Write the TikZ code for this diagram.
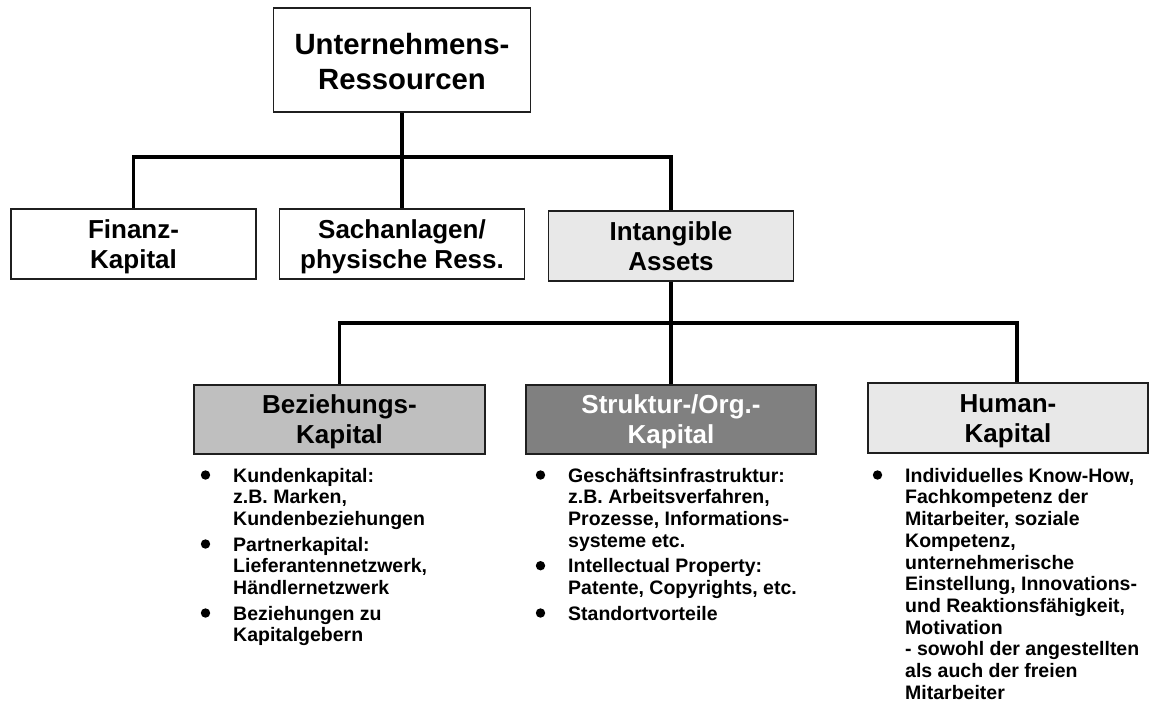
\documentclass[tikz,border=0pt]{standalone}
\usepackage{fontspec}
\setmainfont{Liberation Sans}
\usetikzlibrary{calc}
\definecolor{boxline}{gray}{0.12}
\definecolor{lightfill}{gray}{0.91}
\definecolor{midfill}{gray}{0.75}
\definecolor{darkfill}{gray}{0.5}
% invisible rules that fix the height of the first line and the depth of the last line
\newcommand\rootup{\rule{0pt}{29pt}}
\newcommand\midup{\rule{0pt}{24.5pt}}
\newcommand\lowup{\rule{0pt}{24pt}}
\newcommand\downrule{\rule[-6pt]{0pt}{6pt}}
\begin{document}
\begin{tikzpicture}[x=1pt,y=-1pt,
  basebox/.style={draw=boxline, line width=1.8pt, inner sep=0pt, align=center},
  rootbox/.style={basebox, minimum width=257pt, minimum height=104pt,
    font=\bfseries\fontsize{29.3}{35}\selectfont},
  midbox/.style={basebox, minimum width=245pt, minimum height=70pt,
    font=\bfseries\fontsize{26}{30.5}\selectfont},
  lowbox/.style={basebox, minimum width=291pt, minimum height=69pt,
    font=\bfseries\fontsize{26}{30}\selectfont},
  link/.style={line width=3.2pt, draw=black},
  item/.style={anchor=north west, inner sep=0pt, align=left,
    font=\bfseries\fontsize{19.5}{21.7}\selectfont},
  dot/.style={fill=black}
]
\useasboundingbox (0,0) rectangle (1150,713);

% hierarchy boxes
\node[rootbox] (root) at (402,60) {\rootup Unternehmens-\\Ressourcen\downrule};

\node[midbox] (fin) at (133.5,244) {\midup Finanz-\\Kapital\downrule};
\node[midbox] (sach) at (402,244) {\midup Sachanlagen/\\physische Ress.\downrule};
\node[midbox, fill=lightfill] (intang) at (671,246) {\midup Intangible\\Assets\downrule};

\node[lowbox, fill=midfill] (bez) at (339.5,419.5) {\lowup Beziehungs-\\Kapital\downrule};
\node[lowbox, minimum width=290pt, fill=darkfill, text=white] (struk) at (671,419.5) {\lowup Struktur-/Org.-\\Kapital\downrule};
\node[lowbox, minimum width=280pt, minimum height=70pt, fill=lightfill] (hum) at (1008,418) {\lowup Human-\\Kapital\downrule};

% bus lines
\coordinate (bus1) at (0,157);
\coordinate (bus2) at (0,323);
\coordinate (humtop) at ($(hum.north)+(9,0)$);

\draw[link] (root.south) -- (sach.north);
\draw[link] (fin.north) -- (fin.north |- bus1) -- (intang.north |- bus1) -- (intang.north);
\draw[link] (intang.south) -- (struk.north);
\draw[link] (bez.north) -- (bez.north |- bus2) -- (humtop |- bus2) -- (humtop);

% Beziehungskapital items
\node[item] (b1) at (233,466.8) {\strut Kundenkapital:\\z.B. Marken,\\Kundenbeziehungen\strut};
\node[item] (b2) at ([yshift=-3.5pt]b1.south west) {\strut Partnerkapital:\\Lieferantennetzwerk,\\Händlernetzwerk\strut};
\node[item] (b3) at ([yshift=-3.5pt]b2.south west) {\strut Beziehungen zu\\Kapitalgebern\strut};

% Struktur-/Organisationskapital items
\node[item] (s1) at (568,466.8) {\strut Geschäftsinfrastruktur:\\z.B. Arbeitsverfahren,\\Prozesse, Informations-\\systeme etc.\strut};
\node[item] (s2) at ([yshift=-3.5pt]s1.south west) {\strut Intellectual Property:\\Patente, Copyrights, etc.\strut};
\node[item] (s3) at ([yshift=-3.5pt]s2.south west) {\strut Standortvorteile\strut};

% Humankapital item
\node[item] (h1) at (905,466.8) {\strut Individuelles Know-How,\\Fachkompetenz der\\Mitarbeiter, soziale\\Kompetenz,\\unternehmerische\\Einstellung, Innovations-\\und Reaktionsfähigkeit,\\Motivation\\- sowohl der angestellten\\als auch der freien\\Mitarbeiter\strut};

% bullets
\foreach \n in {b1,b2,b3,s1,s2,s3,h1}
  \fill[dot] ($(\n.north west)+(-27.5,8.2)$) circle[radius=4.7pt];
\end{tikzpicture}
\end{document}
